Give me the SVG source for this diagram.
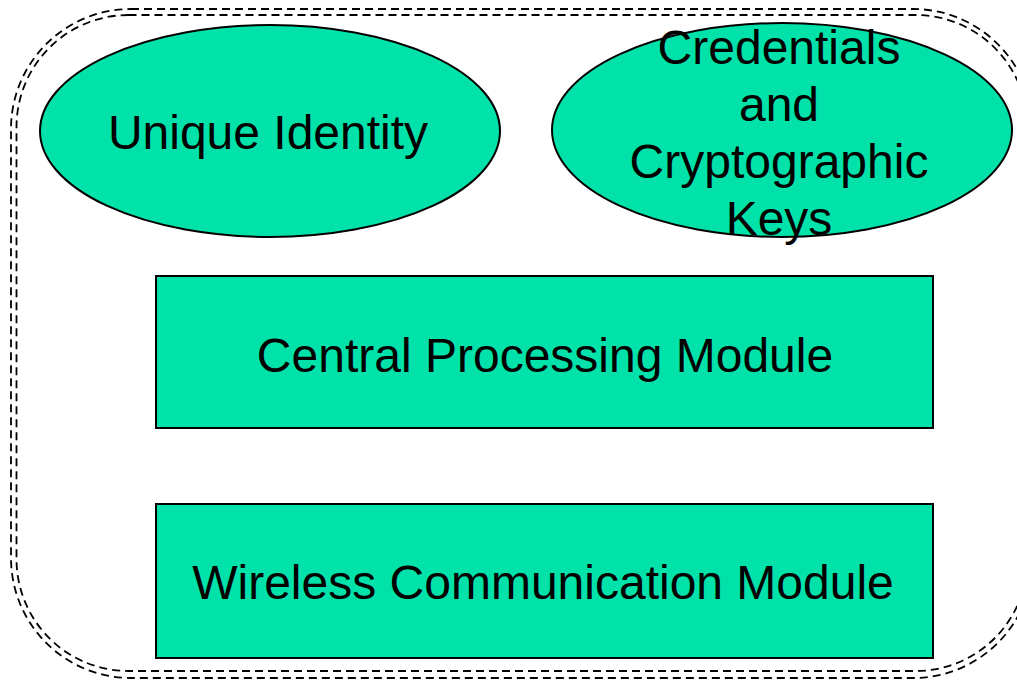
<svg xmlns="http://www.w3.org/2000/svg" width="1017" height="681" viewBox="0 0 1017 681">
<style>
.shape{fill:#00E2AA;stroke:#000;stroke-width:2}
.lbl{font-family:"Liberation Sans",Arial,sans-serif;font-size:48px;fill:#000;text-anchor:middle}
.border{fill:none;stroke:#000;stroke-width:1.8;stroke-dasharray:8,5}
</style>
<rect width="1017" height="681" fill="#fff"/>
<g id="container">
<rect class="border" x="11" y="9" width="1022" height="669" rx="120" ry="120"/>
<rect class="border" x="16.5" y="15" width="1011" height="656" rx="112" ry="112"/>
</g>
<g id="unique-identity">
<ellipse class="shape" cx="270" cy="131" rx="230" ry="106"/>
<text class="lbl" x="268" y="149">Unique Identity</text>
</g>
<g id="credentials">
<ellipse class="shape" cx="782" cy="130" rx="230" ry="107"/>
<text class="lbl" x="779" y="64">Credentials</text>
<text class="lbl" x="779" y="121">and</text>
<text class="lbl" x="779" y="178">Cryptographic</text>
<text class="lbl" x="779" y="235">Keys</text>
</g>
<g id="central-processing">
<rect class="shape" x="156" y="276" width="777" height="152"/>
<text class="lbl" x="545" y="372">Central Processing Module</text>
</g>
<g id="wireless">
<rect class="shape" x="156" y="504" width="777" height="154"/>
<text class="lbl" x="543" y="599">Wireless Communication Module</text>
</g>
<g id="connectors"/>
</svg>
